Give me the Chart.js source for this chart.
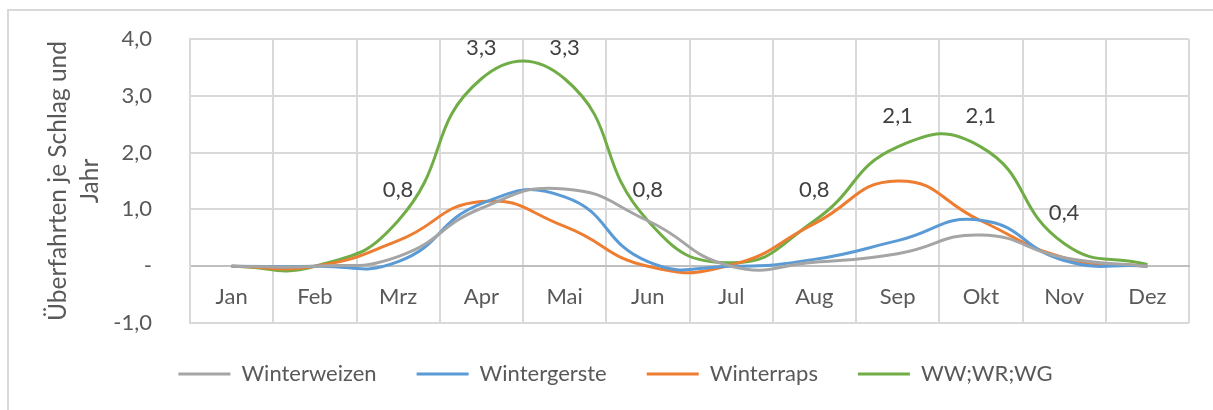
<!DOCTYPE html>
<html>
<head>
<meta charset="utf-8">
<script src="https://cdn.jsdelivr.net/npm/chart.js@4/dist/chart.umd.min.js"></script>
<style>
  html, body { margin: 0; padding: 0; background: #fff; }
  #frame { position: absolute; left: 7px; top: 9px; width: 1300px; height: 500px;
           border-top: 2px solid #d9d9d9; border-left: 2px solid #d9d9d9; }
  #wrap { position: absolute; left: 0; top: 0; width: 1213px; height: 410px; }
</style>
</head>
<body>
<div id="frame"></div>
<div id="wrap"><canvas id="chart" width="1213" height="410"></canvas></div>
<script>
/* Monate */
var months = ['Jan', 'Feb', 'Mrz', 'Apr', 'Mai', 'Jun', 'Jul', 'Aug', 'Sep', 'Okt', 'Nov', 'Dez'];

/* Überfahrten je Schlag und Jahr */
var winterweizen = [0, 0, 0.17, 1.02, 1.36, 0.8, 0.0, 0.07, 0.22, 0.55, 0.15, 0.0];
var wintergerste = [0, 0, 0.08, 1.1, 1.22, 0.08, 0.0, 0.12, 0.45, 0.81, 0.1, 0.0];
var winterraps   = [0, 0, 0.45, 1.14, 0.7, 0.0, 0.02, 0.75, 1.5, 0.8, 0.15, 0.0];
var gesamt       = [0, 0, 0.8, 3.3, 3.3, 0.8, 0.06, 0.8, 2.1, 2.1, 0.4, 0.03];

var yTicks = [-1, 0, 1, 2, 3, 4];

var FONT = 'Lato';
var TEXT = '#595959';
var GRID = '#d9d9d9';

function fmt(v) {
    if (Math.abs(v) < 1e-9) return '-';
    return v.toFixed(1).replace('.', ',');
}

/* Datenbeschriftungen nur fuer die Summenlinie */
var valueLabels = {
    id: 'valueLabels',
    afterDatasetsDraw(chart) {
	var ctx = chart.ctx;
	var meta = chart.getDatasetMeta(3);
	ctx.save();
	ctx.font = '22px ' + FONT;
	ctx.fillStyle = '#404040';
	ctx.textAlign = 'center';
	ctx.textBaseline = 'middle';
	meta.data.forEach(function(pt, i) {
	    var v = gesamt[i];
	    if (v < 0.3) return;
	    ctx.fillText(fmt(v), pt.x, pt.y - 31);
	});
	ctx.restore();
    }
};

function line(label, data, color) {
    return {
	label: label,
	data: data,
	borderColor: color,
	backgroundColor: color,
	borderWidth: 3,
	pointRadius: 0,
	tension: 0.5,
	fill: false
    };
}

new Chart(document.getElementById('chart'), {
    type: 'line',
    data: {
	labels: months,
	datasets: [
	    line('Winterweizen', winterweizen, '#a5a5a5'),
	    line('Wintergerste', wintergerste, '#5b9bd5'),
	    line('Winterraps', winterraps, '#ed7d31'),
	    line('WW;WR;WG', gesamt, '#70ad47')
	]
    },
    options: {
	responsive: false,
	animation: false,
	layout: { padding: { left: 42, right: 24, top: 39, bottom: 15 } },
	plugins: {
	    tooltip: { enabled: false },
	    legend: {
		position: 'bottom',
		labels: {
		    boxWidth: 52,
		    boxHeight: 3,
		    padding: 40,
		    color: TEXT,
		    font: { family: FONT, size: 22 },
		    generateLabels: function(chart) {
			var items = Chart.defaults.plugins.legend.labels.generateLabels(chart);
			items.forEach(function(it) { it.fillStyle = it.strokeStyle; it.lineWidth = 0; });
			return items;
		    }
		}
	    }
	},
	scales: {
	    x: {
		position: { y: 0 },
		offset: true,
		grid: { offset: true, color: GRID, lineWidth: 2, drawTicks: false },
		border: { color: '#bfbfbf', width: 2 },
		ticks: { color: TEXT, padding: 18, font: { family: FONT, size: 22 } }
	    },
	    y: {
		min: -1,
		max: 4,
		afterBuildTicks: function(scale) { scale.ticks = yTicks.map(function(v) { return { value: v }; }); },
		afterFit: function(scale) { scale.width = 148; },
		/* unsichtbare Tickstriche schaffen den Abstand zur Achse */
		grid: { color: GRID, lineWidth: 2, drawTicks: true, tickLength: 36, tickColor: 'rgba(0,0,0,0)' },
		border: { color: GRID, width: 2 },
		ticks: { color: TEXT, padding: 2, font: { family: FONT, size: 22 }, callback: function(v) { return fmt(v); } },
		title: {
		    display: true,
		    text: ['Überfahrten je Schlag und', 'Jahr'],
		    color: TEXT,
		    font: { family: FONT, size: 24.5, lineHeight: 1.3 },
		    padding: { top: 0, bottom: 0 }
		}
	    }
	}
    },
    plugins: [valueLabels]
});
</script>
</body>
</html>
